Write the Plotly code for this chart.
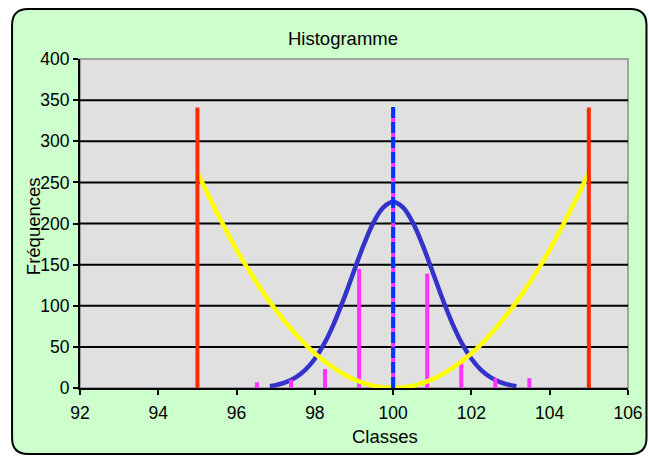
import plotly.graph_objects as go

# ---- data ----
class_centers = [96.52, 97.39, 98.26, 99.13, 100.0, 100.87, 101.74, 102.61, 103.48]
frequencies = [7, 10, 23, 145, 340, 139, 30, 12, 12]

limit_x = [95, 105]
limit_height = 341

mean_x = 100
mean_height = 345

normal_x = [96.85, 97.0, 97.25, 97.5, 97.75, 98.0, 98.25, 98.5, 98.75, 99.0, 99.25, 99.5, 99.75,
            100.0, 100.25, 100.5, 100.75, 101.0, 101.25, 101.5, 101.75, 102.0, 102.25, 102.5,
            102.75, 103.0, 103.15]
normal_y = [2.3, 3.5, 6.9, 12.6, 21.8, 35.6, 54.8, 79.9, 109.7, 142.3, 174.2, 201.3, 219.6,
            226.0, 219.6, 201.3, 174.2, 142.3, 109.7, 79.9, 54.8, 35.6, 21.8, 12.6,
            6.9, 3.5, 2.3]

parab_x = [95, 95.5, 96, 96.5, 97, 97.5, 98, 98.5, 99, 99.5, 100,
           100.5, 101, 101.5, 102, 102.5, 103, 103.5, 104, 104.5, 105]
parab_y = [262, 213, 168, 129, 95, 66, 42, 24, 10.5, 2.6, 0,
           2.6, 10.5, 24, 42, 66, 95, 129, 168, 213, 262]

x_ticks = [92, 94, 96, 98, 100, 102, 104, 106]
y_ticks = [0, 50, 100, 150, 200, 250, 300, 350, 400]

FONT = "Liberation Sans, Arial, Helvetica, sans-serif"

W, H = 649, 456
ML, MR, MT, MB = 80, 20.5, 58.5, 67.7
PW, PH = W - ML - MR, H - MT - MB


def px_to_paper(px, py):
    return (px - ML) / PW, (H - MB - py) / PH


fig = go.Figure()

# normal curve
fig.add_trace(go.Scatter(x=normal_x, y=normal_y, mode="lines", line=dict(color="#3333CC", width=4.5, shape="spline"),
                         hoverinfo="skip", showlegend=False))

# histogram bars as thin lines
bx, by = [], []
for cx, f in zip(class_centers, frequencies):
    bx += [cx, cx, None]
    by += [0, f, None]
fig.add_trace(go.Scatter(x=bx, y=by, mode="lines", line=dict(color="#FF33FF", width=4),
                         hoverinfo="skip", showlegend=False))

# parabola
fig.add_trace(go.Scatter(x=parab_x, y=parab_y, mode="lines", line=dict(color="#FFFF00", width=4.5, shape="spline"),
                         hoverinfo="skip", showlegend=False))

# limits
lx, ly = [], []
for v in limit_x:
    lx += [v, v, None]
    ly += [0, limit_height, None]
fig.add_trace(go.Scatter(x=lx, y=ly, mode="lines", line=dict(color="#FF2A00", width=4),
                         hoverinfo="skip", showlegend=False))

# mean dashed line
fig.add_trace(go.Scatter(x=[mean_x, mean_x], y=[0, mean_height], mode="lines",
                         line=dict(color="#0033FF", width=4, dash="11px,4px"),
                         hoverinfo="skip", showlegend=False))

# rounded green chart area
x0, y1 = px_to_paper(12, 8.5)
x1, y0 = px_to_paper(647, 454.5)
rx, ry = 16 / PW, 16 / PH
path = (f"M {x0+rx},{y1} L {x1-rx},{y1} Q {x1},{y1} {x1},{y1-ry} "
        f"L {x1},{y0+ry} Q {x1},{y0} {x1-rx},{y0} "
        f"L {x0+rx},{y0} Q {x0},{y0} {x0},{y0+ry} "
        f"L {x0},{y1-ry} Q {x0},{y1} {x0+rx},{y1} Z")
shapes = [
    dict(type="path", xref="paper", yref="paper", path=path, fillcolor="#CCFFCC",
         line=dict(color="black", width=2), layer="below"),
    dict(type="rect", xref="paper", yref="paper", x0=0, x1=1, y0=0, y1=1,
         fillcolor="rgb(224,224,224)", line=dict(color="#8C8C8C", width=1.5), layer="below"),
]
# horizontal gridlines (inner ticks only; top edge keeps the grey frame)
for v in y_ticks[1:-1]:
    shapes.append(dict(type="line", xref="paper", yref="y", x0=0, x1=1, y0=v, y1=v,
                       line=dict(color="black", width=2), layer="below"))

tx, ty = px_to_paper(343, 38)
ax_x, ax_y = px_to_paper(385, 437)
ay_x, ay_y = px_to_paper(33, 226)
annotations = [
    dict(text="Histogramme", x=tx, y=ty, xref="paper", yref="paper", showarrow=False,
         xanchor="center", yanchor="middle", font=dict(family=FONT, size=18.5, color="black")),
    dict(text="Classes", x=ax_x, y=ax_y, xref="paper", yref="paper", showarrow=False,
         xanchor="center", yanchor="middle", font=dict(family=FONT, size=18.5, color="black")),
    dict(text="Fréquences", x=ay_x, y=ay_y, xref="paper", yref="paper", showarrow=False, textangle=-90,
         xanchor="center", yanchor="middle", font=dict(family=FONT, size=18.5, color="black")),
]

fig.update_layout(
    width=W, height=H, autosize=False,
    margin=dict(l=ML, r=MR, t=MT, b=MB, pad=0, autoexpand=False),
    paper_bgcolor="white",
    plot_bgcolor="rgba(0,0,0,0)",
    shapes=shapes,
    annotations=annotations,
    font=dict(family=FONT, size=17.5, color="black"),
    xaxis=dict(range=[92, 106], tickvals=x_ticks, ticktext=[str(v) for v in x_ticks],
               showline=True, linecolor="black", linewidth=2, ticks="outside", ticklen=5,
               tickwidth=2, tickcolor="black", showgrid=False, zeroline=False,
               ticklabelstandoff=3, automargin=False,
               tickfont=dict(family=FONT, size=17.5, color="black")),
    yaxis=dict(range=[0, 400], tickvals=y_ticks, ticktext=[str(v) for v in y_ticks],
               showline=True, linecolor="black", linewidth=2, ticks="outside", ticklen=5,
               tickwidth=2, tickcolor="black", showgrid=False, automargin=False,
               zeroline=False, tickfont=dict(family=FONT, size=17.5, color="black")),
)

post = (
    "document.documentElement.style.margin='0';document.documentElement.style.overflow='hidden';"
    "document.body.style.margin='0';document.body.style.padding='0';document.body.style.overflow='hidden';"
    "var gd=document.getElementById('{plot_id}');gd.style.width='649px';gd.style.height='456px';"
    "Plotly.relayout(gd,{width:649,height:456});"
)

fig.write_html("out.html", config={"responsive": False, "displayModeBar": False}, post_script=post)
